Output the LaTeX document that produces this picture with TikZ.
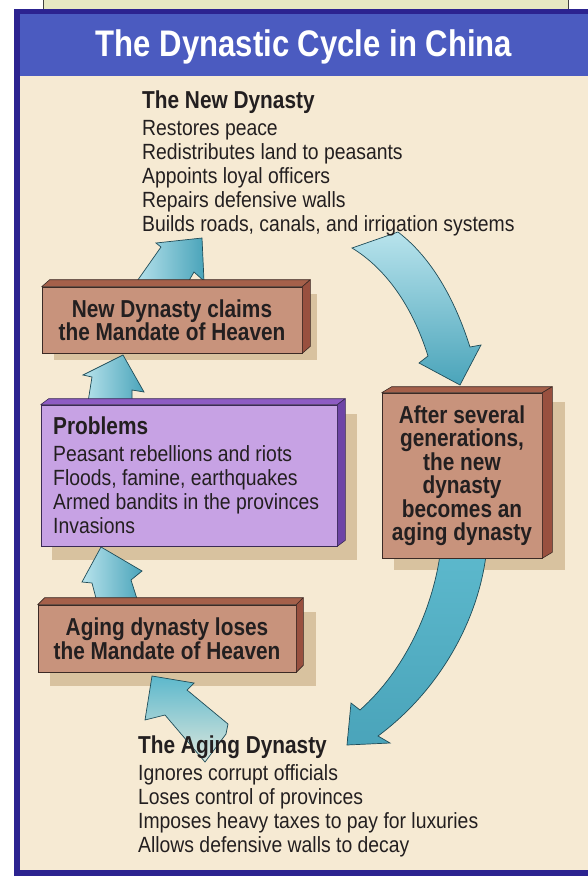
\documentclass[tikz,border=0pt]{standalone}
\usepackage{fontspec}
\setmainfont{Liberation Sans}
\newfontfamily\titlefnt[FakeStretch=0.84]{Liberation Sans}
\newfontfamily\bodyfnt[FakeStretch=0.88]{Liberation Sans}
\newfontfamily\headfnt[FakeStretch=0.85]{Liberation Sans}
\usetikzlibrary{calc}
\definecolor{framedark}{HTML}{2C2390}
\definecolor{headerblue}{HTML}{4B5BC0}
\definecolor{creambg}{HTML}{F6EAD3}
\definecolor{paletop}{HTML}{E6E8C2}
\definecolor{textc}{HTML}{231F20}
\definecolor{shadowc}{HTML}{D8C29F}
\definecolor{brownfront}{HTML}{C8937C}
\definecolor{browntop}{HTML}{A5604A}
\definecolor{brownside}{HTML}{99503F}
\definecolor{slabedge}{HTML}{3B2A25}
\definecolor{purplefront}{HTML}{C7A2E4}
\definecolor{purpletop}{HTML}{8E5CC4}
\definecolor{purpleside}{HTML}{6E44A6}
\definecolor{purpleedge}{HTML}{3A2A55}
\definecolor{arrowmid}{HTML}{5CB8CC}
\definecolor{arrowlight}{HTML}{B8E3EC}
\definecolor{arrowdark}{HTML}{4AA4BA}
\definecolor{arrowedge}{HTML}{1F4C58}
\tikzset{
  bodyline/.style={anchor=base west, inner sep=0pt, text=textc,
    font=\bodyfnt\fontsize{22}{24}\selectfont},
  headline/.style={anchor=base west, inner sep=0pt, text=textc,
    font=\headfnt\bfseries\fontsize{24.5}{26}\selectfont},
  slabtext/.style={inner sep=0pt, align=center, text=textc,
    font=\headfnt\bfseries\fontsize{24.5}{23.5}\selectfont},
  brownslab/.style={slabtext, draw=slabedge, fill=brownfront, line width=0.6pt},
  purpleslab/.style={draw=purpleedge, fill=purplefront, line width=0.6pt, inner sep=0pt},
  browntopface/.style={fill=browntop, draw=slabedge, line width=0.6pt, line join=round},
  brownsideface/.style={fill=brownside, draw=slabedge, line width=0.6pt, line join=round},
  purpletopface/.style={fill=purpletop, draw=purpleedge, line width=0.6pt, line join=round},
  purplesideface/.style={fill=purpleside, draw=purpleedge, line width=0.6pt, line join=round},
  shadowbox/.style={fill=shadowc, draw=none},
  arrowbody/.style={draw=arrowedge, line width=0.7pt, line join=miter},
}
\begin{document}
\begin{tikzpicture}[x=1pt,y=-1pt]
\useasboundingbox (0,0) rectangle (587,876);
\fill[white] (0,0) rectangle (587,876);
% top pale box of the page above
\filldraw[fill=paletop, draw=black!75, line width=0.8pt] (43,-3) rectangle (568,9);
% frame
\fill[framedark] (14,9) rectangle (600,876);
\fill[headerblue] (20,14) rectangle (600,76);
\fill[creambg] (20,76) rectangle (600,870);
\node[font=\titlefnt\bfseries\fontsize{37}{40}\selectfont, text=white, anchor=base, inner sep=0pt]
  (title) at (304,56) {The Dynastic Cycle in China};

% shadows
\fill[shadowbox] (54,294) rectangle (317,360);
\fill[shadowbox] (394,402) rectangle (565,570);
\fill[shadowbox] (52,414) rectangle (357,560);
\fill[shadowbox] (50,612) rectangle (316,686);

% big curved arrows
\path[arrowbody, top color=arrowlight, bottom color=arrowdark]
  (352,248) .. controls (385,268) and (412,305) .. (428,356)
  -- (419,363) -- (460,385) -- (481,345) -- (470,347)
  .. controls (455,300) and (432,258) .. (398,232) -- cycle;
\path[arrowbody, top color=arrowmid, bottom color=arrowdark]
  (440,555) .. controls (432,610) and (405,670) .. (360,710)
  -- (351,703) -- (347,745) -- (390,743) -- (378,736)
  .. controls (440,690) and (478,620) .. (486,555) -- cycle;
% small arrows
\path[arrowbody, left color=arrowlight, right color=arrowdark]
  (202,238) -- (204,281) -- (194,272) -- (187,284) -- (135,284) -- (161,247) -- (156,243) -- cycle;
\path[arrowbody, left color=arrowlight, right color=arrowdark]
  (123,355) -- (144,392) -- (132,390) -- (132,402) -- (88,402) -- (92,377) -- (83,375) -- cycle;
\path[arrowbody, left color=arrowlight, right color=arrowdark]
  (101,547) -- (142,571) -- (131,580) -- (138,602) -- (97,602) -- (92,583) -- (82,582) -- cycle;
\path[arrowbody, top color=arrowmid, bottom color=creambg!60!arrowlight]
  (152,676) -- (194,683) -- (187,690) -- (228,724) -- (226,734) -- (205,762) -- (165,715) -- (145,720) -- cycle;

% box 1
\node[brownslab, minimum width=260pt, minimum height=66pt] (b1) at (172,320)
  {New Dynasty claims\\the Mandate of Heaven};
\filldraw[browntopface] (b1.north west) -- ++(8,-7) -- ($(b1.north east)+(8,-7)$) -- (b1.north east) -- cycle;
\filldraw[brownsideface] (b1.north east) -- ++(8,-7) -- ($(b1.south east)+(8,-7)$) -- (b1.south east) -- cycle;

% box 3
\node[brownslab, minimum width=160pt, minimum height=165pt] (b3) at (462,475.5)
  {After several\\generations,\\the new\\dynasty\\becomes an\\aging dynasty};
\filldraw[browntopface] (b3.north west) -- ++(10,-6) -- ($(b3.north east)+(10,-6)$) -- (b3.north east) -- cycle;
\filldraw[brownsideface] (b3.north east) -- ++(10,-6) -- ($(b3.south east)+(10,-6)$) -- (b3.south east) -- cycle;

% problems box
\node[purpleslab, minimum width=296pt, minimum height=141pt] (pb) at (189,475.5) {};
\filldraw[purpletopface] (pb.north west) -- ++(8,-6) -- ($(pb.north east)+(8,-6)$) -- (pb.north east) -- cycle;
\filldraw[purplesideface] (pb.north east) -- ++(8,-6) -- ($(pb.south east)+(8,-6)$) -- (pb.south east) -- cycle;
\node[headline] (ph) at (53,434) {Problems};
\foreach \t [count=\i] in {Peasant rebellions and riots, {Floods, famine, earthquakes},
    Armed bandits in the provinces, Invasions}
  \node[bodyline] (pl\i) at (53,{437+24*\i}) {\t};

% box 4
\node[brownslab, minimum width=258pt, minimum height=67pt] (b4) at (167,638.5)
  {Aging dynasty loses\\the Mandate of Heaven};
\filldraw[browntopface] (b4.north west) -- ++(7,-7) -- ($(b4.north east)+(7,-7)$) -- (b4.north east) -- cycle;
\filldraw[brownsideface] (b4.north east) -- ++(7,-7) -- ($(b4.south east)+(7,-7)$) -- (b4.south east) -- cycle;

% New dynasty text
\node[headline] (nh) at (142,108) {The New Dynasty};
\foreach \t [count=\i] in {Restores peace, Redistributes land to peasants, Appoints loyal officers,
    Repairs defensive walls, {Builds roads, canals, and irrigation systems}}
  \node[bodyline] (nl\i) at (142,{111+24*\i}) {\t};

% Aging dynasty text
\node[headline] (ah) at (138,753) {The Aging Dynasty};
\foreach \t [count=\i] in {Ignores corrupt officials, Loses control of provinces,
    Imposes heavy taxes to pay for luxuries, Allows defensive walls to decay}
  \node[bodyline] (al\i) at (138,{756+24*\i}) {\t};
\end{tikzpicture}
\end{document}
